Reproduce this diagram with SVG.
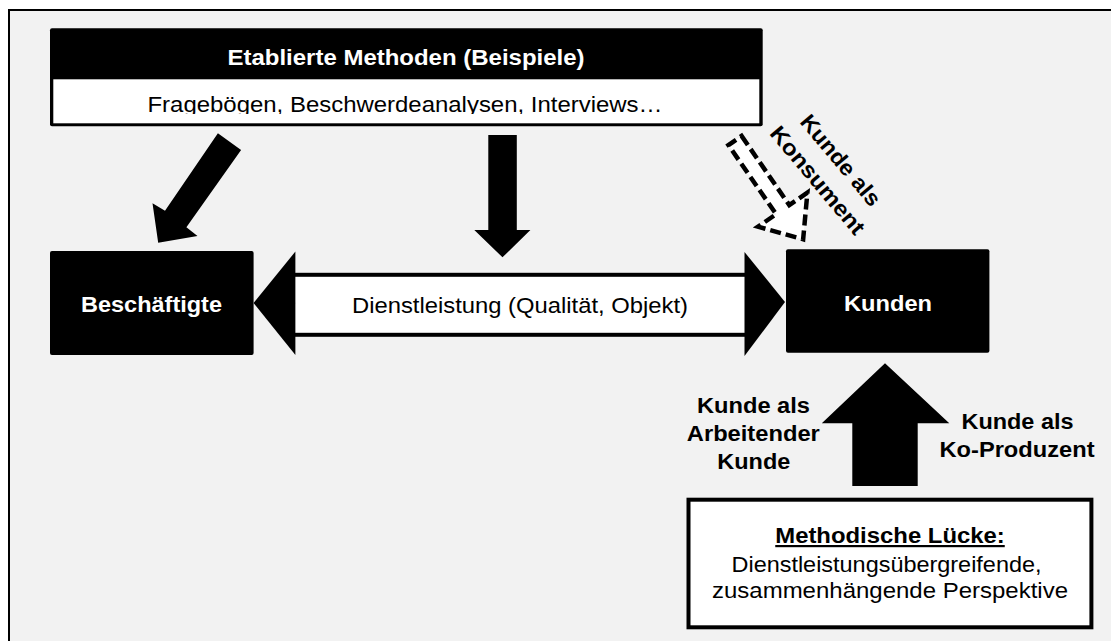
<svg xmlns="http://www.w3.org/2000/svg" width="1111" height="641" viewBox="0 0 1111 641">
  <style>
    text { font-family: "Liberation Sans", Arial, sans-serif; font-size: 22px; }
    .b { font-weight: bold; }
    .w { fill: #ffffff; }
    .k { fill: #000000; }
    .solid { fill: #000000; stroke: none; }
  </style>
  <defs>
    <clipPath id="clipSub">
      <rect x="53" y="79" width="706" height="35"/>
    </clipPath>
  </defs>
  <rect x="0" y="0" width="1111" height="641" fill="#ffffff"/>
  <rect x="9" y="10" width="1200" height="700" fill="#f2f2f2" stroke="#000000" stroke-width="2"/>

  <g id="connectors">
    <polygon class="solid" points="217.9,133.3 241.1,150 186.4,227.3 197.5,236 158.2,242.7 152.5,203.3 165,210.7"/>
    <polygon class="solid" points="488.3,135 516.8,135 516.8,230 530.4,230 502.5,257.3 474.3,230 488.3,230"/>
    <g id="dienstleistung">
      <rect x="293" y="274.8" width="454" height="60" fill="#ffffff" stroke="#000000" stroke-width="4"/>
      <polygon class="solid" points="253.6,303 295.4,251.5 295.4,355"/>
      <polygon class="solid" points="744.5,252 785,302 744.5,356"/>
      <text x="520" y="312.5" text-anchor="middle" textLength="336" lengthAdjust="spacingAndGlyphs" class="k">Dienstleistung (Qualität, Objekt)</text>
    </g>
    <polygon class="solid" points="885,363.3 949.3,423.3 917.7,423.3 917.7,486 852.3,486 852.3,423.3 821.8,423.3"/>
    <g transform="translate(735,140.5) rotate(55.4)">
      <path d="M0,-8 H84 V-30 L120,0 L84,30 V8 H0 Z" fill="#ffffff" stroke="#000000" stroke-width="4.5" stroke-dasharray="11 5"/>
    </g>
    <g id="label-konsument">
      <g transform="translate(841,160) rotate(50)">
        <text x="0" y="8" text-anchor="middle" textLength="112" lengthAdjust="spacingAndGlyphs" class="b k">Kunde als</text>
      </g>
      <g transform="translate(818,180) rotate(50)">
        <text x="0" y="8" text-anchor="middle" textLength="134" lengthAdjust="spacingAndGlyphs" class="b k">Konsument</text>
      </g>
    </g>
    <g id="label-arbeitender">
      <text x="753.5" y="413" text-anchor="middle" textLength="113" lengthAdjust="spacingAndGlyphs" class="b k">Kunde als</text>
      <text x="753.3" y="441" text-anchor="middle" textLength="133" lengthAdjust="spacingAndGlyphs" class="b k">Arbeitender</text>
      <text x="753.8" y="469" text-anchor="middle" textLength="73" lengthAdjust="spacingAndGlyphs" class="b k">Kunde</text>
    </g>
    <g id="label-koproduzent">
      <text x="1017.5" y="429" text-anchor="middle" textLength="112" lengthAdjust="spacingAndGlyphs" class="b k">Kunde als</text>
      <text x="1017" y="457" text-anchor="middle" textLength="155" lengthAdjust="spacingAndGlyphs" class="b k">Ko-Produzent</text>
    </g>
  </g>

  <g id="methoden">
    <rect x="50" y="28.3" width="712.7" height="98" rx="2" fill="#000000"/>
    <rect x="53.3" y="79.3" width="706" height="44" fill="#ffffff"/>
    <text x="406" y="64.5" text-anchor="middle" textLength="357" lengthAdjust="spacingAndGlyphs" class="b w">Etablierte Methoden (Beispiele)</text>
    <text x="405" y="112" text-anchor="middle" textLength="515" lengthAdjust="spacingAndGlyphs" class="k" clip-path="url(#clipSub)">Fragebögen, Beschwerdeanalysen, Interviews…</text>
  </g>

  <g id="beschaeftigte">
    <rect x="50" y="251" width="203.6" height="104" rx="2" fill="#000000"/>
    <text x="151.5" y="311.5" text-anchor="middle" textLength="141" lengthAdjust="spacingAndGlyphs" class="b w">Beschäftigte</text>
  </g>

  <g id="kunden">
    <rect x="786" y="249.3" width="203.4" height="103.4" rx="2" fill="#000000"/>
    <text x="888" y="311" text-anchor="middle" textLength="88" lengthAdjust="spacingAndGlyphs" class="b w">Kunden</text>
  </g>

  <g id="luecke">
    <rect x="688.5" y="499.7" width="402.9" height="127.6" fill="#ffffff" stroke="#000000" stroke-width="4"/>
    <text x="890" y="543" text-anchor="middle" textLength="229.5" lengthAdjust="spacingAndGlyphs" class="b k" text-decoration="underline">Methodische Lücke:</text>
    <text x="886.5" y="572" text-anchor="middle" textLength="310" lengthAdjust="spacingAndGlyphs" class="k">Dienstleistungsübergreifende,</text>
    <text x="890" y="598" text-anchor="middle" textLength="356" lengthAdjust="spacingAndGlyphs" class="k">zusammenhängende Perspektive</text>
  </g>
</svg>
